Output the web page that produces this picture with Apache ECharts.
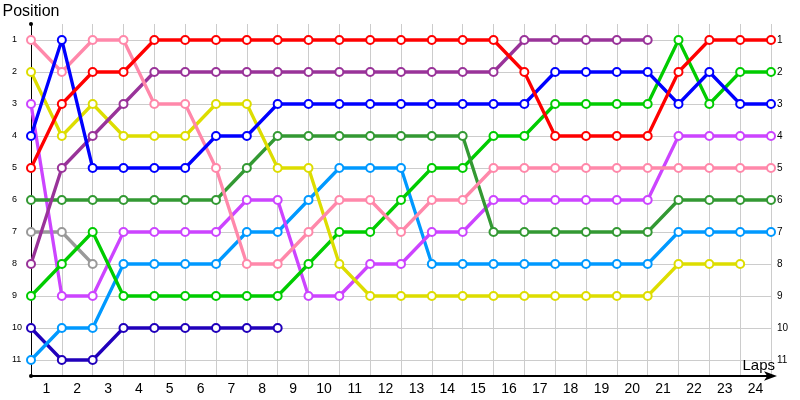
<!DOCTYPE html>
<html>
<head>
<meta charset="utf-8">
<title>Position per lap</title>
<script src="https://cdn.jsdelivr.net/npm/echarts@6.0.0/dist/echarts.min.js"></script>
<style>
  html, body { margin: 0; padding: 0; background: #ffffff; }
</style>
</head>
<body>
<div id="positionChart" style="width: 800px; height: 400px;"></div>
<script>
// x axis labels, they sit between the grid lines
const lapLabels = ['1', '2', '3', '4', '5', '6', '7', '8', '9', '10', '11', '12',
  '13', '14', '15', '16', '17', '18', '19', '20', '21', '22', '23', '24'];

// position of every driver after each lap (index 0 = start)
const redPos = [5, 3, 2, 2, 1, 1, 1, 1, 1, 1, 1, 1, 1, 1, 1, 1, 2, 4, 4, 4, 4, 2, 1, 1, 1];
const bluePos = [4, 1, 5, 5, 5, 5, 4, 4, 3, 3, 3, 3, 3, 3, 3, 3, 3, 2, 2, 2, 2, 3, 2, 3, 3];
const pinkPos = [1, 2, 1, 1, 3, 3, 5, 8, 8, 7, 6, 6, 7, 6, 6, 5, 5, 5, 5, 5, 5, 5, 5, 5, 5];
const purplePos = [8, 5, 4, 3, 2, 2, 2, 2, 2, 2, 2, 2, 2, 2, 2, 2, 1, 1, 1, 1, 1];
const yellowPos = [2, 4, 3, 4, 4, 4, 3, 3, 5, 5, 8, 9, 9, 9, 9, 9, 9, 9, 9, 9, 9, 8, 8, 8];
const darkGreenPos = [6, 6, 6, 6, 6, 6, 6, 5, 4, 4, 4, 4, 4, 4, 4, 7, 7, 7, 7, 7, 7, 6, 6, 6, 6];
const greenPos = [9, 8, 7, 9, 9, 9, 9, 9, 9, 8, 7, 7, 6, 5, 5, 4, 4, 3, 3, 3, 3, 1, 3, 2, 2];
const violetPos = [3, 9, 9, 7, 7, 7, 7, 6, 6, 9, 9, 8, 8, 7, 7, 6, 6, 6, 6, 6, 6, 4, 4, 4, 4];
const grayPos = [7, 7, 8];
const skyBluePos = [11, 10, 10, 8, 8, 8, 8, 7, 7, 6, 5, 5, 5, 8, 8, 8, 8, 8, 8, 8, 8, 7, 7, 7, 7];
const navyPos = [10, 11, 11, 10, 10, 10, 10, 10, 10];

const drivers = [
  { name: 'gray', color: '#999999', pos: grayPos },
  { name: 'navy', color: '#2000bb', pos: navyPos },
  { name: 'skyBlue', color: '#0099ff', pos: skyBluePos },
  { name: 'violet', color: '#cc44ff', pos: violetPos },
  { name: 'green', color: '#00cc00', pos: greenPos },
  { name: 'darkGreen', color: '#339933', pos: darkGreenPos },
  { name: 'yellow', color: '#dddd00', pos: yellowPos },
  { name: 'purple', color: '#993399', pos: purplePos },
  { name: 'pink', color: '#ff88aa', pos: pinkPos },
  { name: 'blue', color: '#0000ff', pos: bluePos },
  { name: 'red', color: '#ff0000', pos: redPos }
];

const myChart = echarts.init(document.getElementById('positionChart'));
const font = 'Liberation Sans, Arial, sans-serif';

const positionAxis = {
  type: 'value',
  inverse: true,
  min: 0.5,
  max: 11.5,
  minInterval: 1,
  maxInterval: 1
};

const option = {
  animation: false,
  backgroundColor: '#ffffff',
  grid: { left: 31, right: 29, top: 24, bottom: 24, containLabel: false, outerBoundsMode: 'none' },
  xAxis: [
    {
      type: 'value',
      min: 0,
      max: 24,
      interval: 1,
      name: 'Laps',
      nameLocation: 'end',
      nameGap: 4,
      nameMoveOverlap: false,
      nameTextStyle: {
        fontFamily: font, fontSize: 15, color: '#000000',
        align: 'right', verticalAlign: 'bottom', padding: [0, 0, 3, 0]
      },
      axisLine: {
        show: true,
        lineStyle: { color: '#000000', width: 2 },
        symbol: ['none', 'arrow'],
        symbolSize: [7, 13],
        symbolOffset: [0, 6]
      },
      axisTick: { show: false },
      axisLabel: { show: false },
      splitLine: { show: true, lineStyle: { color: '#cccccc', width: 1 } }
    },
    {
      // only used for the lap numbers
      type: 'category',
      position: 'bottom',
      data: lapLabels,
      boundaryGap: true,
      axisLine: { show: false },
      axisTick: { show: false },
      splitLine: { show: false },
      axisLabel: { fontFamily: font, fontSize: 14, color: '#000000', margin: 6 }
    }
  ],
  yAxis: [
    Object.assign({}, positionAxis, {
      position: 'left',
      name: 'Position',
      nameLocation: 'start',
      nameGap: 4,
      nameMoveOverlap: false,
      nameTextStyle: {
        fontFamily: font, fontSize: 16, color: '#000000',
        align: 'center', verticalAlign: 'bottom'
      },
      axisLine: {
        show: true,
        lineStyle: { color: '#000000', width: 1 },
        symbol: ['circle', 'circle'],
        symbolSize: [4, 4]
      },
      axisTick: { show: false },
      axisLabel: {
        fontFamily: font, fontSize: 9, color: '#000000',
        align: 'left', margin: 19,
        showMinLabel: false, showMaxLabel: false,
        formatter: v => (Number.isInteger(v) ? String(v) : '')
      },
      splitLine: {
        show: true, showMinLine: false, showMaxLine: false,
        lineStyle: { color: '#cccccc', width: 1 }
      }
    }),
    Object.assign({}, positionAxis, {
      position: 'right',
      axisLine: { show: false },
      axisTick: { show: false },
      axisLabel: {
        fontFamily: font, fontSize: 10, color: '#000000',
        align: 'left', margin: 6,
        showMinLabel: false, showMaxLabel: false,
        formatter: v => (Number.isInteger(v) ? String(v) : '')
      },
      splitLine: { show: false }
    })
  ],
  series: drivers.map(d => ({
    name: d.name,
    type: 'line',
    xAxisIndex: 0,
    yAxisIndex: 0,
    data: d.pos.map((p, lap) => [lap, p]),
    symbol: 'emptyCircle',
    symbolSize: 8,
    showAllSymbol: true,
    lineStyle: { color: d.color, width: 3.3 },
    itemStyle: { color: d.color, borderWidth: 1.2 },
    emphasis: { disabled: true }
  }))
};

myChart.setOption(option);
window.addEventListener('resize', function () {
  myChart.resize();
});
</script>
</body>
</html>
